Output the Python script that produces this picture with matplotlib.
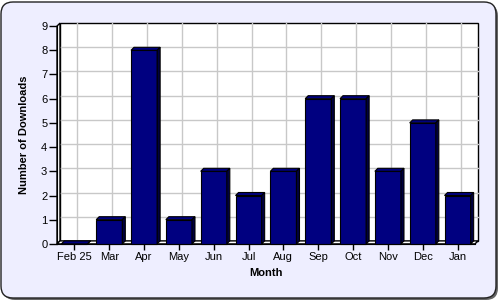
import matplotlib
matplotlib.use("Agg")
import matplotlib.pyplot as plt
from matplotlib.patches import FancyBboxPatch, Polygon, Rectangle
from matplotlib.transforms import ScaledTranslation
import numpy as np

months = ["Feb 25", "Mar", "Apr", "May", "Jun", "Jul", "Aug", "Sep", "Oct", "Nov", "Dec", "Jan"]
downloads = [0, 1, 8, 1, 3, 2, 3, 6, 6, 3, 5, 2]
y_ticks = list(range(0, 10))

plt.rcParams['font.family'] = ['Liberation Sans', 'DejaVu Sans']
plt.rcParams['font.size'] = 8

fig = plt.figure(figsize=(5, 3), dpi=100)
fig.patch.set_facecolor("white")

# outer rounded panel with shadow
shadow = FancyBboxPatch((0.03, 0.0), 4.95, 2.96, boxstyle="round,pad=0,rounding_size=0.12",
                        transform=fig.dpi_scale_trans, facecolor="#666666", edgecolor="none", zorder=0)
panel = FancyBboxPatch((0.01, 0.02), 4.95, 2.96, boxstyle="round,pad=0,rounding_size=0.12",
                       transform=fig.dpi_scale_trans, facecolor="#EEEEFF", edgecolor="#222222",
                       linewidth=1, zorder=1)
fig.patches.extend([shadow, panel])

ax = fig.add_axes([0.114, 0.187, 0.836, 0.726])
ax.set_zorder(2)
ax.patch.set_visible(False)

n = len(months)
x = np.arange(n)
ax.set_xlim(-0.5, n - 0.5)
ax.set_ylim(0, 9)

d = 3 / 100  # depth in inches (3 px)
back = ax.transData + ScaledTranslation(d, d, fig.dpi_scale_trans)

# back wall
ax.add_patch(Rectangle((-0.5, 0), n, 9, transform=back, facecolor="white",
                       edgecolor="black", linewidth=1, clip_on=False, zorder=1))
for yv in y_ticks[1:-1]:
    ax.plot([-0.5, n - 0.5], [yv, yv], color="#C8C8C8", linewidth=1,
            transform=back, clip_on=False, zorder=2)
for xv in x:
    ax.plot([xv, xv], [0, 9], color="#C8C8C8", linewidth=1,
            transform=back, clip_on=False, zorder=2)

# depth in data units
fig.canvas.draw()
bb = ax.get_window_extent()
ddx = 3 / bb.width * n
ddy = 3 / bb.height * 9

# left wall and floor
ax.add_patch(Polygon([(-0.5, 0), (-0.5, 9), (-0.5 + ddx, 9 + ddy), (-0.5 + ddx, ddy)],
                     closed=True, facecolor="white", edgecolor="black", linewidth=1,
                     clip_on=False, zorder=3))
ax.add_patch(Polygon([(-0.5, 0), (n - 0.5, 0), (n - 0.5 + ddx, ddy), (-0.5 + ddx, ddy)],
                     closed=True, facecolor="white", edgecolor="black", linewidth=1,
                     clip_on=False, zorder=3))

# 3D bars
w = 0.75
bars = ax.bar(x, downloads, width=w, color="#000080", edgecolor="black",
              linewidth=0.8, zorder=5, clip_on=False)
for b in bars:
    x0 = b.get_x()
    x1 = x0 + b.get_width()
    h = b.get_height()
    ax.add_patch(Polygon([(x0, h), (x1, h), (x1 + ddx, h + ddy), (x0 + ddx, h + ddy)],
                         closed=True, facecolor="#000080", edgecolor="black",
                         linewidth=0.8, clip_on=False, zorder=5))
    ax.add_patch(Polygon([(x1, 0), (x1, h), (x1 + ddx, h + ddy), (x1 + ddx, ddy)],
                         closed=True, facecolor="#000040", edgecolor="black",
                         linewidth=0.8, clip_on=False, zorder=5))

for s in ["top", "right"]:
    ax.spines[s].set_visible(False)
ax.spines["left"].set_zorder(6)
ax.spines["bottom"].set_zorder(6)

ax.set_yticks(y_ticks)
ax.set_xticks(x)
ax.set_xticklabels(months)
ax.tick_params(axis="y", length=6, width=1, pad=1)
ax.tick_params(axis="x", length=4, width=1, pad=2)
ax.set_xlabel("Month", fontweight="bold", labelpad=4)
ax.set_ylabel("Number of Downloads", fontweight="bold", labelpad=9)

fig.savefig("out.png", dpi=100)
